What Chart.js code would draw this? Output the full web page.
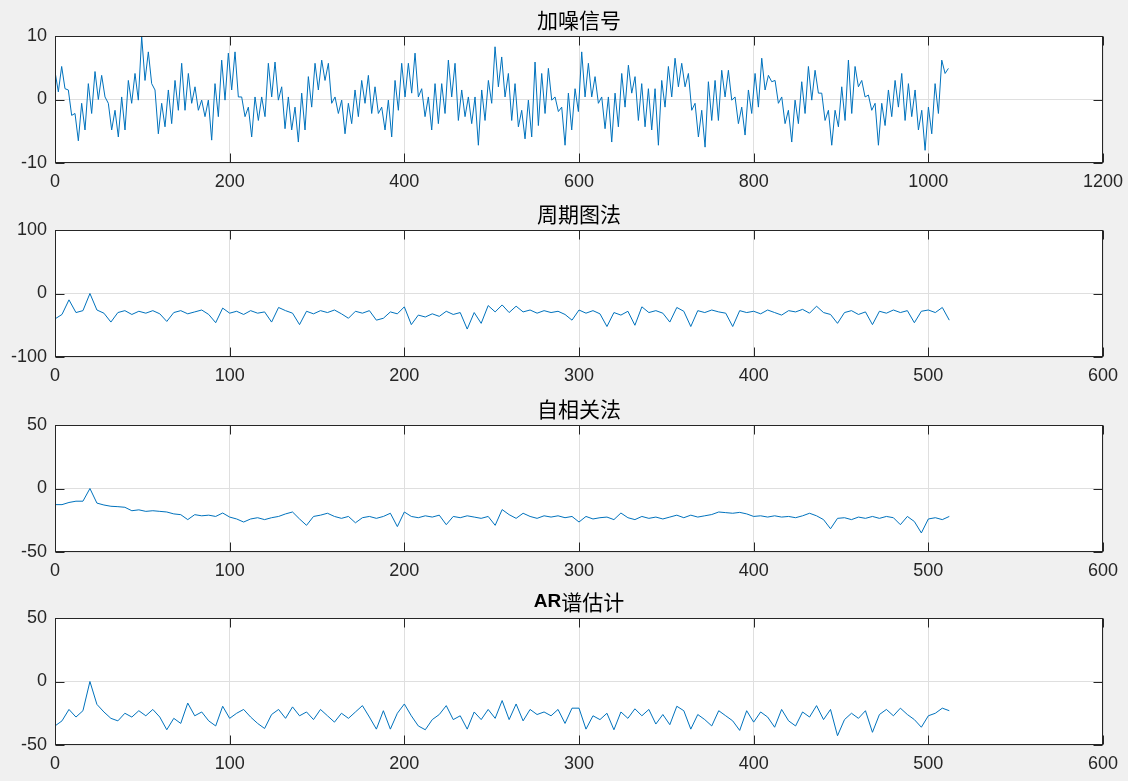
<!DOCTYPE html>
<html>
<head>
<meta charset="utf-8">
<script src="https://cdn.jsdelivr.net/npm/chart.js@4.4.1/dist/chart.umd.min.js"></script>
<style>
  body { margin: 0; background: #f0f0f0; width: 1128px; height: 781px; overflow: hidden; position: relative; }
  .panel { position: absolute; left: 0; width: 1128px; height: 194px; }
</style>
</head>
<body>
<div class="panel" style="top:0px"><canvas id="c1" width="1128" height="194"></canvas></div>
<div class="panel" style="top:194px"><canvas id="c2" width="1128" height="194"></canvas></div>
<div class="panel" style="top:389px"><canvas id="c3" width="1128" height="194"></canvas></div>
<div class="panel" style="top:582px"><canvas id="c4" width="1128" height="194"></canvas></div>
<script>
var signal = [
  4.4,1.2, 5.2,1.7, 1.5,-2.5, -2.2,-6.5, -0.6,-4.8, 2.5,-2.2, 4.4,0, 3.8,0.4,
  -0.6,-4.8, -1.7,-5.9, 0.4,-4.8, 3,-0.6, 4.1,-0.1, 9.9,3, 7.5,2.5, 1.5,-5.4,
  -0.6,-4.3, 1.5,-3.8, 3,-1.7, 5.7,-1.7, 4.1,-0.6, 2,-1.7, -0.1,-2.7, -0.1,-6.4,
  2.5,-2.7, 6.2,-0.1, 7.3,1.5, 7.5,0.4, 0.4,-2.7, -1.2,-5.9, 0.4,-3.3, 0.4,-2.7,
  5.7,0.4, 5.9,-0.1, 2,-4.6, 0.4,-4.8, -1.2,-6.7, 1,-4.8, 3.6,-1.2, 5.7,1.5,
  6.2,3, 5.7,-0.6, 0.4,-2.2, -0.1,-5.4, -0.6,-3.8, 1.5,-2.7, 3,-0.6, 3.8,-2.2,
  2,-2.2, -1.2,-4.8, -0.1,-5.9, 3,-1.7, 5.7,0.4, 5.7,1, 7.3,0.4, 1.7,-2.7,
  0.4,-4.8, 2.5,-3.8, 2.5,-2.2, 6.2,0.4, 5.7,-3.3, 1.5,-2.7, 0.4,-3.8, 0.4,-7.2,
  1.5,-3.3, 3,-0.6, 8.3,2, 6.7,0.4,
  4.1,-3.3, 2.5,-4.3, -1.7,-6.2, -0.1,-5.9, 5.9,-4.1, 4.1,-2.2, 4.9,-0.1, 0.4,-1.9,
  -1.2,-7.2, 1,-4.8, 1.7,-1.9, 7.5,0.4, 5.7,0.4, 3.6,-0.6, 0.4,-4.6, 0.4,-6.7,
  1,-4.3, 4.1,-1.2, 5.4,1, 3.6,-3.3, 2.5,-4.3, 1.7,-4.8, 1.7,-7.2, 3,-1.2,
  5.2,0.4, 6.5,2, 5.7,2, 4.1,-1.7, -0.6,-5.9, -1.7,-7.5, 2.8,-3.3, 3,-3.3,
  4.6,0.4, 4.6,-0.1, 0.4,-3.8, -1.2,-5.6, 1.5,-2.2, 4.1,-1.2, 6.5,1.5, 3.8,2.8,
  3,-0.6, 0.4,-3.8, -1.7,-6.7, -0.1,-3.8, 2.8,-2.2, 5.2,-0.1, 4.6,1, 1,-3.3,
  -1.7,-7.2, -1.7,-4.3, 2,-3.3, 6.2,-2.2, 5.2,2, 3,0.4, 0.7,-1.7, -0.6,-7.2,
  -0.6,-4.1, 1.5,-2.7, 3,-1.2, 4.1,-3.3, 2.5,-2.7, 1.5,-4.8, -1.7,-8, -1.2,-5.4,
  2.5,-2.2, 6.2,4.1, 4.9
];
var signalLast = 1023;

// spectra, one value every 4 bins from 0 to 512
var specStep = 4;
var periodogram = [
  -40,-33,-10,-30,-27,0,-26,-31,-45,-30,-27,-33,-28,-31,-27,-32,
  -44,-30,-27,-32,-29,-26,-33,-46,-23,-31,-28,-33,-27,-31,-29,-45,
  -22,-27,-31,-49,-28,-32,-27,-30,-26,-32,-39,-28,-31,-27,-42,-39,
  -29,-32,-21,-49,-34,-37,-32,-36,-28,-33,-30,-56,-30,-47,-19,-29,
  -18,-30,-20,-29,-26,-31,-27,-30,-28,-33,-42,-26,-31,-27,-32,-52,
  -30,-34,-28,-50,-21,-30,-27,-31,-45,-22,-28,-52,-27,-30,-26,-29,
  -31,-52,-27,-30,-28,-32,-26,-30,-34,-27,-29,-25,-31,-20,-30,-33,
  -47,-30,-27,-33,-29,-49,-28,-31,-26,-30,-27,-46,-28,-26,-30,-22,
  -42
];
var autocorr = [
  -12.7,-12.7,-11,-10,-10,0,-11.5,-13,-14,-14.3,-14.8,-17.5,-16.8,-18,-17.5,-18,
  -18.5,-20,-20.6,-24.5,-20.6,-21.5,-21,-22,-19.3,-22.5,-24,-26.4,-24,-23,-24.5,-23,
  -22,-20,-18.5,-24,-29,-22,-21,-19.5,-22,-23.5,-22,-27,-23,-22,-23.5,-22,
  -19.5,-30,-18.5,-22,-23,-21.5,-22.5,-21,-28.5,-22,-23,-21.5,-22.5,-23.5,-22,-29,
  -16.6,-20.6,-23.5,-19.5,-22,-23.5,-21.5,-22.5,-21.5,-23,-22,-26.4,-22,-24,-23,-22.5,
  -24.5,-19.3,-23,-24.5,-22,-23.5,-22.5,-24,-22.5,-21,-23,-21,-22.5,-21.5,-20.5,-18.5,
  -19,-19.5,-18.8,-20,-22,-21.5,-22.5,-21.5,-22.5,-22,-23,-21.5,-19.5,-21.5,-24.5,-31.7,
  -23.5,-23,-24.5,-22.5,-23.5,-22,-23.5,-22,-23,-28.5,-22,-26,-35,-24,-23,-24.5,
  -22
];
var arSpec = [
  -35,-31,-22,-28,-23,0,-18,-24,-29,-31,-25,-28,-23,-27,-22,-28,
  -38,-29,-33,-17,-27,-24,-31,-35,-19.5,-29,-25,-22,-28,-33,-37,-26,
  -22,-29,-20,-27,-24,-30,-22,-27,-32,-25,-29,-24,-19,-28,-37.5,-23,
  -37.5,-25,-17.7,-27,-35,-38,-30,-26,-19,-30,-27,-37.5,-24,-30,-22,-29,
  -15,-30,-17.7,-31,-22,-26,-24,-27,-22,-33,-21,-21,-37.5,-27,-30,-25,
  -38,-24,-29,-21.5,-27,-22,-33.5,-26,-34,-19.5,-23,-37.5,-26,-30,-35,-23,
  -27,-31,-38.5,-23,-32,-24,-28,-36,-22,-31,-35,-24,-28,-19,-30,-22,
  -42.7,-30,-25,-29,-23,-40,-26,-22,-27,-21,-26,-30,-36,-27,-25,-21,
  -23
];

var titles = [
  [{ text: "加噪信号" }],
  [{ text: "周期图法" }],
  [{ text: "自相关法" }],
  [{ text: "AR", bold: true }, { text: "谱估计" }]
];

var tickFont = { family: "'Liberation Sans', Arial, sans-serif", size: 18 };

function toPoints(values, step) {
  var pts = [];
  for (var i = 0; i < values.length; i++) {
    pts.push({ x: i * step, y: values[i] });
  }
  return pts;
}

// white plot area, full box, inward ticks and the title, MATLAB style
var boxPlugin = {
  id: "matlabBox",
  beforeDraw: function(chart) {
    var a = chart.chartArea, ctx = chart.ctx;
    ctx.save();
    ctx.fillStyle = "#ffffff";
    ctx.fillRect(a.left, a.top, a.right - a.left, a.bottom - a.top);
    ctx.restore();
  },
  afterDraw: function(chart) {
    var a = chart.chartArea, ctx = chart.ctx;
    var L = Math.round(a.left) + 0.5, R = Math.round(a.right) - 0.5;
    var T = Math.round(a.top) + 0.5, B = Math.round(a.bottom) - 0.5;
    ctx.save();
    ctx.strokeStyle = "#262626";
    ctx.lineWidth = 1;
    ctx.strokeRect(L, T, R - L, B - T);
    ctx.beginPath();
    var xs = chart.scales.x, ys = chart.scales.y;
    xs.ticks.forEach(function(t) {
      var px = Math.round(xs.getPixelForValue(t.value)) + 0.5;
      ctx.moveTo(px, B); ctx.lineTo(px, B - 9);
      ctx.moveTo(px, T); ctx.lineTo(px, T + 9);
    });
    ys.ticks.forEach(function(t) {
      var py = Math.round(ys.getPixelForValue(t.value)) + 0.5;
      ctx.moveTo(L, py); ctx.lineTo(L + 9, py);
      ctx.moveTo(R, py); ctx.lineTo(R - 9, py);
    });
    ctx.stroke();

    // title
    var parts = chart.options.plugins.matlabBox.title;
    var fonts = parts.map(function(p) {
      return p.bold ? "bold 19px 'Liberation Sans', Arial, sans-serif"
                    : "21px 'Noto Sans CJK SC', sans-serif";
    });
    var total = 0;
    parts.forEach(function(p, i) { ctx.font = fonts[i]; total += ctx.measureText(p.text).width; });
    var x = (a.left + a.right) / 2 - total / 2;
    ctx.fillStyle = "#000000";
    ctx.textBaseline = "middle";
    ctx.textAlign = "left";
    parts.forEach(function(p, i) {
      ctx.font = fonts[i];
      ctx.fillText(p.text, x, 20);
      x += ctx.measureText(p.text).width;
    });
    ctx.restore();
  }
};

function makeChart(id, points, xMax, xStep, yMin, yMax, yStep, title) {
  var ctx = document.getElementById(id).getContext("2d");
  return new Chart(ctx, {
    type: "line",
    data: {
      datasets: [{
        data: points,
        borderColor: "#0072bd",
        borderWidth: 1,
        pointRadius: 0,
        tension: 0,
        fill: false
      }]
    },
    options: {
      responsive: false,
      animation: false,
      layout: { padding: { top: 36, right: 25, left: 0, bottom: 0 } },
      plugins: {
        legend: { display: false },
        tooltip: { enabled: false },
        title: { display: false },
        matlabBox: { title: title }
      },
      scales: {
        x: {
          type: "linear",
          min: 0,
          max: xMax,
          ticks: {
            stepSize: xStep, color: "#262626", font: tickFont, padding: 8, maxRotation: 0,
            callback: function(v) { return String(v); }
          },
          grid: { color: "#dfdfdf", drawTicks: false },
          border: { display: false },
          afterFit: function(s) { s.height = 31; s.paddingLeft = 0; s.paddingRight = 0; }
        },
        y: {
          min: yMin,
          max: yMax,
          ticks: {
            stepSize: yStep, color: "#262626", font: tickFont, padding: 8,
            callback: function(v) { return String(v); }
          },
          grid: { color: "#dfdfdf", drawTicks: false },
          border: { display: false },
          afterFit: function(s) { s.width = 55; s.paddingTop = 0; s.paddingBottom = 0; }
        }
      }
    },
    plugins: [boxPlugin]
  });
}

makeChart("c1", toPoints(signal, signalLast / (signal.length - 1)), 1200, 200, -10, 10, 10, titles[0]);
makeChart("c2", toPoints(periodogram, specStep), 600, 100, -100, 100, 100, titles[1]);
makeChart("c3", toPoints(autocorr, specStep), 600, 100, -50, 50, 50, titles[2]);
makeChart("c4", toPoints(arSpec, specStep), 600, 100, -50, 50, 50, titles[3]);
</script>
</body>
</html>
